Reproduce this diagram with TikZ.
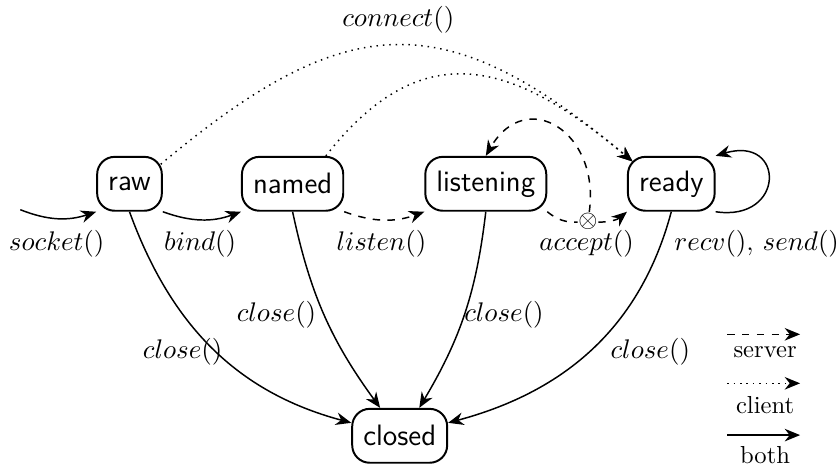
\documentclass[tikz,border=0pt]{standalone}
\usetikzlibrary{arrows.meta,calc}
\tikzset{
  state/.style={draw, thick, rounded corners=2.5mm, font=\sffamily\large,
    minimum height=0.77cm, inner xsep=4.5pt},
  lbl/.style={font=\fontsize{11}{13}\selectfont},
  server/.style={dashed},
  client/.style={dotted},
}
\begin{document}
\begin{tikzpicture}[>={Stealth[length=2.2mm,width=1.8mm]}, semithick]
    \useasboundingbox (0,0) rectangle (12,6.6857);
    % states
    \node[state] (raw) at (1.85,4.06) {raw};
    \node[state] (named) at (4.18,4.06) {named};
    \node[state] (listening) at (6.94,4.06) {listening};
    \node[state] (ready) at (9.59,4.06) {ready};
    \node[state] (closed) at (5.71,0.46) {closed};
    \node[inner sep=0pt] (acc) at (8.40,3.53) {$\otimes$};
    \coordinate (start) at (0.29,3.69);
    % transitions
    \draw[->] (start) to[bend right=20] (raw.south west);
    \draw[->] (raw.south east) to[bend right=20] (named.south west);
    \draw[->,server] (named.south east) to[bend right=20] (listening.south west);
    \draw[server] (listening.south east) to[bend right=20] (acc);
    \draw[->,server] (acc) to[bend right=20] (ready.south west);
    \draw[->,server] (acc) to[out=82,in=60,looseness=1.75] (listening.north);
    \draw[->,client] ($(raw.north east)+(-0.03,-0.12)$) to[out=40,in=140,looseness=1.32] ($(ready.north west)+(0.08,-0.08)$);
    \draw[->,client] (named.40) to[out=52,in=140,looseness=1.3] ($(ready.north west)+(0.08,-0.08)$);
    \draw[->] (ready.south east) .. controls +(1.0,-0.15) and +(1.0,0.3) .. (ready.north east);
    \draw[->] (raw.south) to[out=-70,in=165] (closed.165);
    \draw[->] (named.south) to[bend right=12] (closed.125);
    \draw[->] (listening.south) to[bend left=12] (closed.55);
    \draw[->] (ready.south) to[out=-105,in=15] (closed.15);
    % labels
    \node[lbl] (lsocket) at (0.81,3.21) {$socket()$};
    \node[lbl] (lbind) at (2.86,3.21) {$bind()$};
    \node[lbl] (llisten) at (5.45,3.21) {$listen()$};
    \node[lbl] (laccept) at (8.38,3.21) {$accept()$};
    \node[lbl] (lrecv) at (10.81,3.21) {$recv()$, $send()$};
    \node[lbl] (lconnect) at (5.69,6.40) {$connect()$};
    \node[lbl] (lcloseraw) at (2.61,1.66) {$close()$};
    \node[lbl] (lclosenamed) at (3.95,2.19) {$close()$};
    \node[lbl] (lcloselistening) at (7.20,2.19) {$close()$};
    \node[lbl] (lcloseready) at (9.29,1.66) {$close()$};
    % legend
    \coordinate (srva) at (10.39,1.91);
    \coordinate (srvb) at (11.43,1.91);
    \coordinate (clia) at (10.39,1.21);
    \coordinate (clib) at (11.43,1.21);
    \coordinate (both) at (10.39,0.47);
    \coordinate (bothb) at (11.43,0.47);
    \draw[->,server] (srva) -- (srvb);
    \draw[->,client] (clia) -- (clib);
    \draw[->] (both) -- (bothb);
    \node (lserver) at (10.93,1.66) {server};
    \node (lclient) at (10.93,0.90) {client};
    \node (lboth) at (10.93,0.19) {both};
\end{tikzpicture}
\end{document}
